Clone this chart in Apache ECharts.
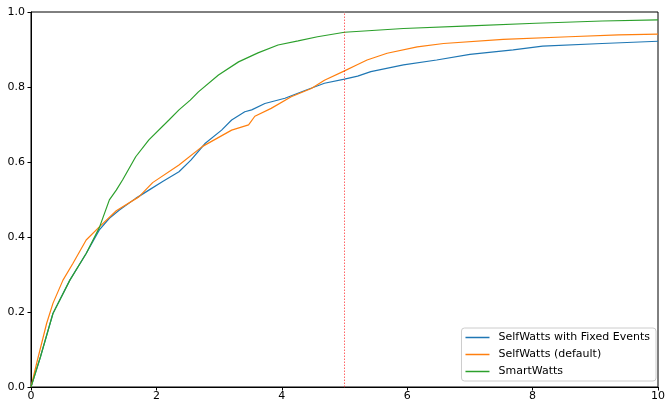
<!DOCTYPE html>
<html>
<head>
<meta charset="utf-8">
<script src="https://cdn.jsdelivr.net/npm/echarts@6/dist/echarts.min.js"></script>
<style>html,body{margin:0;padding:0;background:#fff;}#c{width:668px;height:405px;}</style>
</head>
<body>
<div id="c"></div>
<script>
var seriesNames = ['SelfWatts with Fixed Events', 'SelfWatts (default)', 'SmartWatts'];
var xTicks = [0, 2, 4, 6, 8, 10];
var yTicks = [0.0, 0.2, 0.4, 0.6, 0.8, 1.0];
var thresholdX = 5;

var blueX = [0,0.15,0.35,0.62,0.88,1.09,1.25,1.41,1.67,1.88,2.1,2.36,2.55,2.78,3.04,3.2,3.41,3.52,3.73,4.05,4.36,4.68,5.0,5.21,5.42,5.94,6.47,7.0,7.69,8.16,9.11,10];
var blueY = [0,0.08,0.196,0.285,0.356,0.419,0.45,0.472,0.503,0.525,0.548,0.574,0.605,0.65,0.685,0.712,0.734,0.739,0.756,0.77,0.79,0.81,0.821,0.829,0.841,0.859,0.872,0.887,0.899,0.909,0.916,0.922];

var orangeX = [0,0.1,0.25,0.35,0.51,0.67,0.88,1.09,1.36,1.72,1.94,2.36,2.73,3.2,3.47,3.57,3.83,4.15,4.47,4.68,5.0,5.21,5.36,5.68,6.16,6.58,7.53,8.58,9.37,10];
var orangeY = [0,0.07,0.17,0.223,0.285,0.33,0.392,0.427,0.47,0.507,0.545,0.592,0.641,0.685,0.699,0.722,0.743,0.774,0.796,0.818,0.843,0.86,0.872,0.89,0.907,0.916,0.927,0.934,0.939,0.941];

var greenX = [0,0.15,0.35,0.62,0.88,1.09,1.25,1.36,1.46,1.67,1.88,2.2,2.36,2.54,2.67,2.99,3.31,3.62,3.94,4.26,4.57,5.0,5.94,7.0,8.05,9.11,10];
var greenY = [0,0.08,0.196,0.285,0.356,0.425,0.499,0.525,0.552,0.614,0.659,0.712,0.739,0.765,0.787,0.832,0.867,0.891,0.912,0.923,0.934,0.946,0.956,0.963,0.970,0.976,0.979];

var colors = ['#1f77b4', '#ff7f0e', '#2ca02c'];

function pairs(xs, ys) { return xs.map(function (x, i) { return [x, ys[i]]; }); }

var font = 'DejaVu Sans';
var chart = echarts.init(document.getElementById('c'), null, {renderer: 'canvas'});
var allX = [blueX, orangeX, greenX];
var allY = [blueY, orangeY, greenY];
var series = seriesNames.map(function (name, i) {
  return {
    name: name, type: 'line', data: pairs(allX[i], allY[i]),
    symbol: 'none', smooth: false, animation: false,
    lineStyle: {color: colors[i], width: 1.2},
    itemStyle: {color: colors[i]}, z: 2 + i
  };
});
series[2].markLine = {
  silent: true, symbol: ['none', 'none'], animation: false,
  label: {show: false},
  lineStyle: {color: 'rgba(255,0,0,0.6)', type: [1.5, 1.5], width: 1},
  data: [{xAxis: thresholdX}]
};

chart.setOption({
  animation: false,
  backgroundColor: '#fff',
  color: colors,
  grid: {left: 31, right: 5, top: 12, bottom: 18, show: true, borderColor: '#000', borderWidth: 1, backgroundColor: 'transparent'},
  xAxis: {
    type: 'value', min: xTicks[0], max: xTicks[xTicks.length - 1], interval: 2,
    axisLine: {show: true, lineStyle: {color: '#000', width: 1}},
    axisTick: {show: true, length: 3.5, lineStyle: {color: '#000'}},
    axisLabel: {color: '#000', fontFamily: font, fontSize: 11, margin: 4},
    splitLine: {show: false}
  },
  yAxis: {
    type: 'value', min: yTicks[0], max: yTicks[yTicks.length - 1], interval: 0.2,
    axisLine: {show: true, lineStyle: {color: '#000', width: 1}},
    axisTick: {show: true, length: 3.5, lineStyle: {color: '#000'}},
    axisLabel: {color: '#000', fontFamily: font, fontSize: 11, margin: 6, formatter: function (v) { return v.toFixed(1); }},
    splitLine: {show: false}
  },
  legend: {
    data: seriesNames, orient: 'vertical', right: 12, bottom: 24,
    backgroundColor: 'rgba(255,255,255,0.8)', borderColor: '#ccc', borderWidth: 1, borderRadius: 3,
    padding: [3, 6, 3, 4], itemGap: 4, itemWidth: 24, itemHeight: 1.5, icon: 'rect',
    textStyle: {color: '#000', fontFamily: font, fontSize: 11, lineHeight: 13, padding: [0, 0, 0, 4]}
  },
  series: series
});
</script>
</body>
</html>
